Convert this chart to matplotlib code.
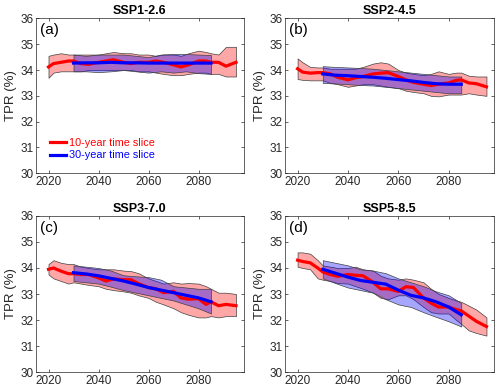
import matplotlib.pyplot as plt
import numpy as np

plt.rcParams['font.family'] = ['Liberation Sans', 'DejaVu Sans']

# years
yr10 = [2020, 2022, 2025, 2028, 2030, 2033, 2036, 2040, 2043, 2046, 2050, 2053, 2056,
        2060, 2063, 2066, 2070, 2073, 2076, 2080, 2083, 2085, 2088, 2091, 2095]
yr30 = [2030, 2035, 2040, 2045, 2050, 2055, 2060, 2065, 2070, 2075, 2080, 2085]

titles = ['SSP1-2.6', 'SSP2-4.5', 'SSP3-7.0', 'SSP5-8.5']
letters = ['(a)', '(b)', '(c)', '(d)']

# 10-year time slice: median, upper, lower
mid10_a = [34.12, 34.25, 34.3, 34.35, 34.35, 34.25, 34.22, 34.3, 34.35, 34.4, 34.3, 34.25, 34.3,
           34.3, 34.35, 34.3, 34.2, 34.12, 34.2, 34.35, 34.35, 34.3, 34.3, 34.15, 34.3]
hi10_a = [34.55, 34.6, 34.65, 34.6, 34.6, 34.6, 34.6, 34.6, 34.65, 34.7, 34.65, 34.65, 34.6,
          34.6, 34.55, 34.6, 34.6, 34.55, 34.65, 34.75, 34.7, 34.65, 34.6, 34.9, 34.9]
lo10_a = [33.7, 33.9, 33.95, 33.95, 33.95, 33.95, 34.0, 34.0, 34.0, 34.0, 34.0, 34.0, 33.95,
          33.95, 33.9, 33.85, 33.8, 33.8, 33.85, 33.9, 33.9, 33.85, 33.85, 33.75, 33.75]
mid10_b = [34.05, 33.92, 33.88, 33.9, 33.9, 33.85, 33.72, 33.62, 33.7, 33.75, 33.85, 33.88, 33.9,
           33.75, 33.62, 33.52, 33.45, 33.4, 33.45, 33.5, 33.6, 33.62, 33.5, 33.47, 33.35]
hi10_b = [34.45, 34.3, 34.12, 34.1, 34.1, 34.05, 34.05, 34.05, 34.05, 34.12, 34.25, 34.3, 34.25,
          34.0, 33.9, 33.85, 33.8, 33.85, 33.95, 33.85, 33.9, 33.9, 33.78, 33.75, 33.75]
lo10_b = [33.65, 33.62, 33.6, 33.6, 33.6, 33.5, 33.45, 33.35, 33.4, 33.45, 33.45, 33.4, 33.35,
          33.3, 33.2, 33.15, 33.1, 33.0, 32.98, 33.05, 33.05, 33.05, 33.1, 33.05, 33.0]
mid10_c = [33.95, 34.0, 33.88, 33.78, 33.78, 33.75, 33.75, 33.62, 33.5, 33.58, 33.55, 33.55, 33.4,
           33.25, 33.2, 33.05, 33.1, 32.85, 32.8, 32.82, 32.6, 32.7, 32.55, 32.6, 32.55]
hi10_c = [34.15, 34.3, 34.2, 34.15, 34.15, 34.05, 34.0, 33.95, 33.95, 33.95, 33.9, 33.88, 33.8,
          33.6, 33.5, 33.4, 33.45, 33.4, 33.42, 33.4, 33.3, 33.2, 33.05, 33.05, 33.0]
lo10_c = [33.75, 33.6, 33.5, 33.4, 33.45, 33.4, 33.35, 33.3, 33.2, 33.15, 33.1, 33.05, 32.95,
          32.85, 32.7, 32.6, 32.45, 32.3, 32.2, 32.1, 32.1, 32.15, 32.1, 32.15, 32.15]
mid10_d = [34.3, 34.25, 34.2, 34.0, 33.85, 33.75, 33.68, 33.75, 33.72, 33.7, 33.45, 33.2, 33.2,
           33.1, 33.28, 33.25, 32.85, 32.65, 32.5, 32.5, 32.4, 32.35, 32.15, 31.95, 31.75]
hi10_d = [34.6, 34.6, 34.55, 34.3, 34.1, 34.05, 34.0, 34.0, 34.05, 33.95, 33.9, 33.7, 33.6,
          33.55, 33.6, 33.55, 33.45, 33.2, 33.0, 32.85, 32.75, 32.7, 32.55, 32.4, 32.1]
lo10_d = [34.05, 34.0, 33.95, 33.6, 33.55, 33.5, 33.42, 33.4, 33.3, 33.2, 33.05, 32.85, 32.8,
          32.95, 32.95, 32.8, 32.5, 32.3, 32.25, 32.25, 32.0, 31.85, 31.6, 31.5, 31.4]

# 30-year time slice: median, upper, lower
mid30_a = [34.27, 34.28, 34.28, 34.3, 34.28, 34.28, 34.27, 34.27, 34.27, 34.27, 34.27, 34.27]
hi30_a = [34.6, 34.55, 34.6, 34.6, 34.6, 34.55, 34.5, 34.6, 34.62, 34.62, 34.6, 34.58]
lo30_a = [33.95, 33.95, 33.92, 33.95, 34.0, 33.95, 33.9, 33.95, 33.9, 33.95, 33.88, 33.85]
mid30_b = [33.85, 33.8, 33.78, 33.75, 33.72, 33.68, 33.63, 33.58, 33.52, 33.47, 33.45, 33.45]
hi30_b = [34.15, 34.12, 34.1, 34.08, 34.05, 34.0, 33.95, 33.9, 33.85, 33.8, 33.75, 33.75]
lo30_b = [33.5, 33.48, 33.45, 33.42, 33.4, 33.35, 33.3, 33.25, 33.2, 33.15, 33.1, 33.1]
mid30_c = [33.82, 33.77, 33.7, 33.6, 33.5, 33.38, 33.25, 33.15, 33.05, 32.95, 32.85, 32.7]
hi30_c = [34.1, 34.05, 34.0, 33.9, 33.72, 33.68, 33.65, 33.55, 33.3, 33.25, 33.2, 33.2]
lo30_c = [33.5, 33.45, 33.4, 33.28, 33.15, 33.05, 32.95, 32.85, 32.75, 32.6, 32.45, 32.25]
mid30_d = [33.95, 33.8, 33.65, 33.52, 33.45, 33.38, 33.15, 32.95, 32.85, 32.7, 32.5, 32.2]
hi30_d = [34.3, 34.2, 34.1, 33.95, 33.9, 33.8, 33.6, 33.45, 33.3, 33.1, 32.95, 32.65]
lo30_d = [33.6, 33.42, 33.25, 33.15, 33.05, 32.8, 32.6, 32.5, 32.3, 32.12, 31.95, 31.75]

ten = [(mid10_a, hi10_a, lo10_a), (mid10_b, hi10_b, lo10_b),
       (mid10_c, hi10_c, lo10_c), (mid10_d, hi10_d, lo10_d)]
thirty = [(mid30_a, hi30_a, lo30_a), (mid30_b, hi30_b, lo30_b),
          (mid30_c, hi30_c, lo30_c), (mid30_d, hi30_d, lo30_d)]

fig = plt.figure(figsize=(5.0, 3.92), dpi=100)
pos = [[0.072, 0.558, 0.415, 0.395], [0.570, 0.558, 0.418, 0.395],
       [0.072, 0.051, 0.415, 0.398], [0.570, 0.051, 0.418, 0.398]]
tc = '#262626'

for i in range(4):
    ax = fig.add_axes(pos[i])
    m, h, l = ten[i]
    ax.fill_between(yr10, l, h, facecolor=(1, 0, 0, 0.35), edgecolor='#404040', lw=0.5)
    m3, h3, l3 = thirty[i]
    ax.fill_between(yr30, l3, h3, facecolor=(0, 0, 1, 0.35), edgecolor='#404040', lw=0.5)
    ax.plot(yr10, m, color='red', lw=2.3, label='10-year time slice')
    ax.plot(yr30, m3, color='blue', lw=2.3, label='30-year time slice')
    ax.set_xlim(2015, 2098)
    ax.set_ylim(30, 36)
    ax.set_xticks([2020, 2040, 2060, 2080])
    ax.set_yticks([30, 31, 32, 33, 34, 35, 36])
    ax.tick_params(direction='in', top=True, right=True, labelsize=8.5, colors=tc,
                   length=2.5, width=0.5, pad=2)
    for s in ax.spines.values():
        s.set_color(tc)
        s.set_linewidth(0.5)
    ax.set_ylabel('TPR (%)', fontsize=9.5, color=tc, labelpad=2)
    ax.set_title(titles[i], fontsize=9, fontweight='bold', pad=3)
    ax.text(0.02, 0.97, letters[i], transform=ax.transAxes, fontsize=11, va='top', ha='left')
    if i == 0:
        leg = ax.legend(loc='lower left', frameon=False, fontsize=7.8, handlelength=1.5,
                        handletextpad=0.3, labelspacing=0.2, bbox_to_anchor=(0.02, 0.02),
                        labelcolor='linecolor')

fig.savefig('out.png', dpi=100)
